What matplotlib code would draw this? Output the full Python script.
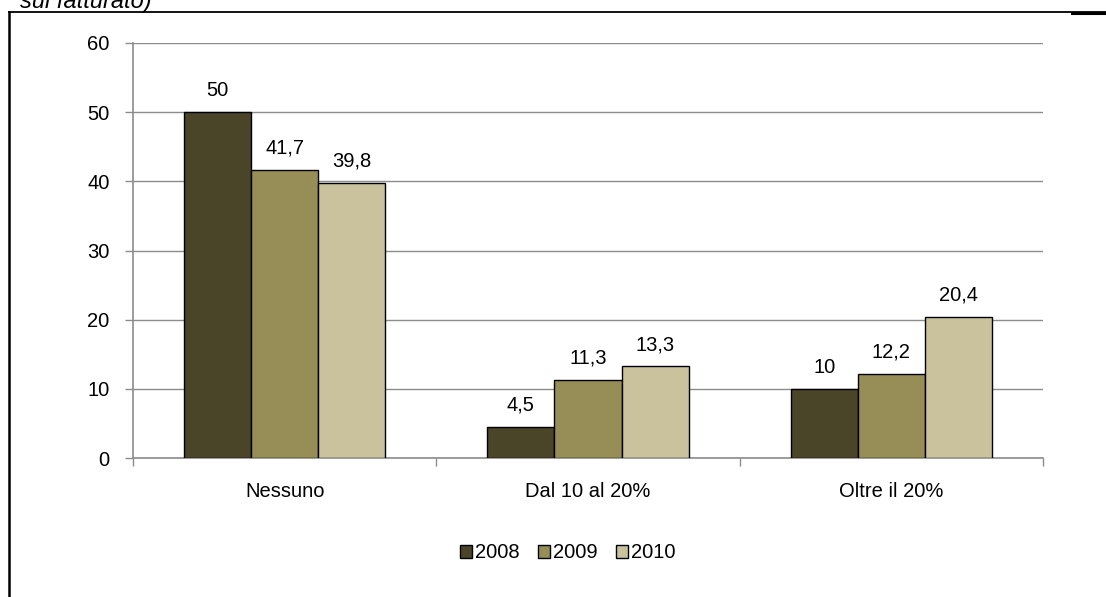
import matplotlib
matplotlib.use("Agg")
import matplotlib.pyplot as plt
from matplotlib.lines import Line2D
import numpy as np

categories = ["Nessuno", "Dal 10 al 20%", "Oltre il 20%"]
series_names = ["2008", "2009", "2010"]
v2008 = [50, 4.5, 10]
v2009 = [41.7, 11.3, 12.2]
v2010 = [39.8, 13.3, 20.4]
labels2008 = ["50", "4,5", "10"]
labels2009 = ["41,7", "11,3", "12,2"]
labels2010 = ["39,8", "13,3", "20,4"]
colors = ["#4A4429", "#978D57", "#C9C29C"]

plt.rcParams['font.family'] = ['Liberation Sans', 'DejaVu Sans']
FS = 14.5

W, H = 1106, 597
fig = plt.figure(figsize=(W/100, H/100), dpi=100)
ax = fig.add_axes([133/W, 1-458/H, (1043-133)/W, (458-43)/H])

x = np.arange(len(categories))
bw = 0.2215
allvals = [v2008, v2009, v2010]
alllabels = [labels2008, labels2009, labels2010]
for i, (vals, labs) in enumerate(zip(allvals, alllabels)):
    pos = x + (i-1)*bw
    ax.bar(pos, vals, width=bw, color=colors[i], edgecolor="black", linewidth=1.0, zorder=3, label=series_names[i])
    for p, v, l in zip(pos, vals, labs):
        ax.annotate(l, (p, v), xytext=(0, 11.5), textcoords="offset points",
                    ha="center", va="baseline", fontsize=FS, color="black")

ax.set_xlim(-0.5, 2.5)
ax.set_ylim(0, 60)
ax.set_yticks(range(0, 61, 10))
ax.yaxis.grid(True, color="#8c8c8c", linewidth=1.0, zorder=0)
ax.set_axisbelow(True)
ax.set_xticks([-0.5, 0.5, 1.5, 2.5], minor=False)
ax.set_xticklabels([])
ax.set_xticks(x, minor=True)
ax.set_xticklabels(categories, minor=True)
ax.tick_params(axis="x", which="minor", length=0, pad=17, labelsize=FS)
ax.tick_params(axis="x", which="major", length=6, color="#8c8c8c", width=1.0, direction="out")
ax.tick_params(axis="y", length=6, color="#8c8c8c", width=1.0, direction="out", pad=11, labelsize=FS)
for s in ["top", "right"]:
    ax.spines[s].set_visible(False)
for s in ["left", "bottom"]:
    ax.spines[s].set_color("#8c8c8c")
    ax.spines[s].set_linewidth(1.2)

handles, lbls = ax.get_legend_handles_labels()
fig.legend(handles, lbls, loc="center", bbox_to_anchor=(568/W, 1-553/H), ncol=3, frameon=False,
           fontsize=FS, handlelength=0.6, handleheight=0.6, handletextpad=0.15, columnspacing=0.9)

# outer frame lines
fig.add_artist(Line2D([9/W, 9/W], [0, 1-12/H], color="black", linewidth=1.8, transform=fig.transFigure))
fig.add_artist(Line2D([9/W, 1], [1-12/H, 1-12/H], color="black", linewidth=1.3, transform=fig.transFigure))
fig.add_artist(Line2D([1072/W, 1], [1-12.5/H, 1-12.5/H], color="black", linewidth=2.2, transform=fig.transFigure))
fig.text(20/W, 1-8/H, "sul fatturato)", fontsize=17, style="italic", ha="left", va="baseline")

fig.savefig("out.png", dpi=100)
